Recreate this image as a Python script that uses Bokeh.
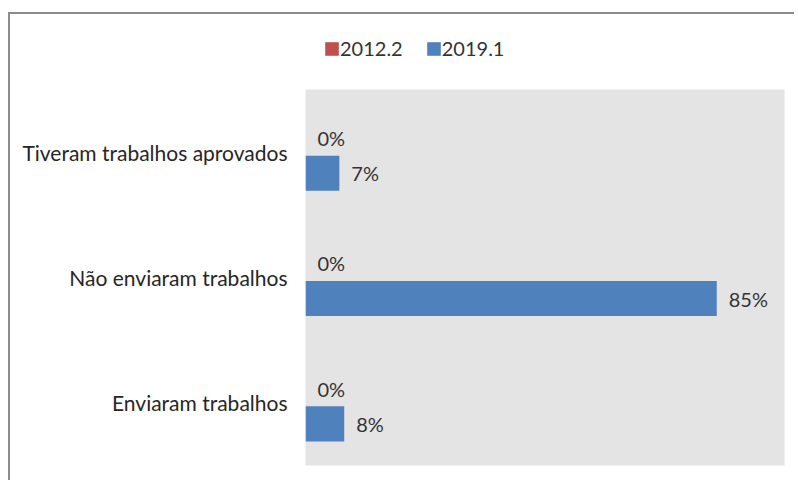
from bokeh.plotting import figure
from bokeh.layouts import column
from bokeh.models import ColumnDataSource, FactorRange, Range1d, Legend, LegendItem
from bokeh.transform import dodge
from bokeh.core.properties import value
from bokeh.embed import file_html
from bokeh.resources import INLINE

# ---- data ----
categories = ["Enviaram trabalhos", "Não enviaram trabalhos", "Tiveram trabalhos aprovados"]
series_names = ["2012.2", "2019.1"]
values_2012_2 = [0, 0, 0]
values_2019_1 = [8, 85, 7]

RED = "#C0504D"
BLUE = "#4F81BD"
FONT = "Lato"

src = ColumnDataSource(dict(
    cat=categories,
    v1=values_2012_2,
    v2=values_2019_1,
    t1=[f"{v}%" for v in values_2012_2],
    t2=[f"{v}%" for v in values_2019_1],
))

# ---- legend strip (top) ----
top = figure(
    title=None, width=786, height=75,
    x_range=Range1d(0, 1), y_range=Range1d(0, 1),
    output_backend="svg", toolbar_location=None,
    min_border_left=0, min_border_right=0, min_border_top=0, min_border_bottom=0,
    background_fill_color="white", border_fill_color="white",
    outline_line_color=None,
)
top.axis.visible = False
top.grid.visible = False
# zero-size swatch carriers (only their legend glyphs are visible)
lr1 = top.hbar(y="v1", left="v1", right="v1", height=0, fill_color=RED,
               line_color=None, source=src)
lr2 = top.hbar(y="v1", left="v2", right="v2", height=0, fill_color=BLUE,
               line_color=None, source=src)
legend = Legend(
    items=[LegendItem(label=series_names[0], renderers=[lr1]),
           LegendItem(label=series_names[1], renderers=[lr2])],
    orientation="horizontal",
    location=(18, 29),
    glyph_width=17, glyph_height=17,
    label_standoff=0, spacing=22, padding=0, margin=0,
    label_text_font=FONT, label_text_font_size="20px", label_text_color="#333333",
    border_line_color=None, background_fill_alpha=0,
)
top.add_layout(legend)

# ---- main chart ----
p = figure(
    title=None,
    y_range=FactorRange(factors=categories),
    x_range=Range1d(0, 99),
    width=786, height=393,
    output_backend="svg", toolbar_location=None,
    min_border_left=295, min_border_right=12,
    min_border_top=0, min_border_bottom=17,
    background_fill_color="#E4E4E4",
    border_fill_color="white",
    outline_line_color=None,
)

off_red = 0.112
off_blue = -0.168
bar_h = 0.28

p.hbar(y=dodge("cat", off_red, range=p.y_range), left=0, right="v1",
       height=bar_h, fill_color=RED, line_color=None, source=src)
p.hbar(y=dodge("cat", off_blue, range=p.y_range), left=0, right="v2",
       height=bar_h, fill_color=BLUE, line_color=None, source=src)

p.text(x="v1", y=dodge("cat", off_red, range=p.y_range), text="t1", source=src,
       x_offset=12, text_align="left", text_baseline="middle",
       text_font=value(FONT), text_font_size="20px", text_color="#333333")
p.text(x="v2", y=dodge("cat", off_blue, range=p.y_range), text="t2", source=src,
       x_offset=12, text_align="left", text_baseline="middle",
       text_font=value(FONT), text_font_size="20px", text_color="#333333")

p.xaxis.visible = False
p.xgrid.visible = False
p.ygrid.visible = False
yax = p.yaxis[0]
yax.axis_line_color = None
yax.major_tick_line_color = None
yax.minor_tick_line_color = None
yax.major_tick_in = 0
yax.major_tick_out = 0
yax.major_label_standoff = 18
yax.major_label_text_font = FONT
yax.major_label_text_font_size = "21px"
yax.major_label_text_color = "#262626"

layout = column(top, p, spacing=0, margin=(14, 0, 0, 10))
layout.styles = {"box-shadow": "-2px -2px 0 0 #8c8c8c"}

open("out.html", "w").write(file_html(layout, INLINE))
